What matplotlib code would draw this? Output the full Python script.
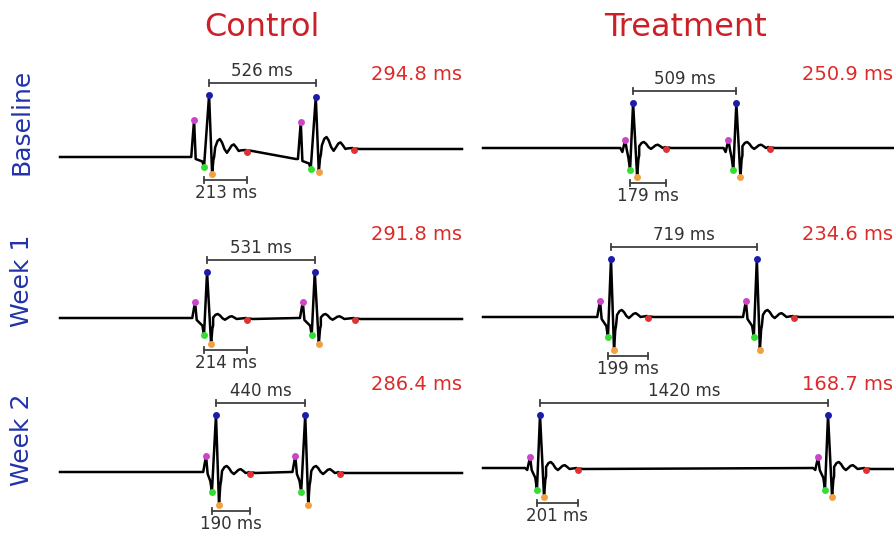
import numpy as np
import matplotlib.pyplot as plt

# panels: Control/Treatment x Baseline/Week 1/Week 2 (row-major)
groups = ['Control', 'Treatment']
weeks = ['Baseline', 'Week 1', 'Week 2']

rr_ms = [526, 509, 531, 719, 440, 1420]        # R-R interval
qt_ms = [213, 179, 214, 199, 190, 201]         # Q-T interval
qtc_ms = [294.8, 250.9, 291.8, 234.6, 286.4, 168.7]
first_r_ms = [735, 740, 725, 631, 769, 281]    # time of first R peak

# beat shape (ms relative to R, amplitude in px)
p_off = [-74, -39, -59, -54, -49, -49]
q_off = [-25, -15, -15, -15, -20, -15]
s_off = [15, 20, 20, 15, 15, 20]
p_amp = [37, 8, 16, 16, 16, 11]
q_amp = [-10, -22, -17, -20, -20, -22]
r_amp = [62, 45, 46, 58, 57, 53]
s_amp = [-23, -29, -25, -33, -32, -28]
t_amp = [12, 6, 5, 7, 7, 7]
p_dip = [0, -4, 0, 0, 0, -2]
# baseline level before / after each of the two beats
level_pre = [(0, -2), (0, 0), (0, 0), (0, 0), (0, 0), (0, 0)]
level_post = [(6, 8), (0, 0), (-1, -1), (0, 0), (-1, -1), (-1, -1)]

# post-S wave: time (ms after R) and fraction of t_amp
wave_t = [30, 42, 53, 64, 76, 88, 100, 111, 122, 134, 146, 156]
wave_f = [0.3, 0.85, 1.0, 0.7, 0.15, -0.15, 0.15, 0.45, 0.55, 0.3, 0.0, 0.05]

W, H = 895, 535
MS_PER_PX = 4.93
col_px = [(60, 462), (483, 895)]
row_px = [(50, 212), (212, 375), (375, 535)]
base_px = [157, 148, 318, 317, 472, 468]
value_y = [75, 235, 385]

C_P, C_Q, C_R, C_S, C_T = '#cc44cc', '#33dd33', '#1c1ca8', '#f2a040', '#dd3333'
GRAY = '#404040'

fig = plt.figure(figsize=(W / 100, H / 100), dpi=100)


def beat(i, tr, pre, post):
    tp, tq, ts = p_off[i], q_off[i], s_off[i]
    te = tq + qt_ms[i]
    t = [tp - 24, tp - 14, tp, tp + 8, tq - 8, tq, 0, ts, ts + 6, ts + 10]
    y = [pre, pre + p_dip[i], pre + p_amp[i], pre - 2, pre + q_amp[i] * 0.45,
         pre + q_amp[i], pre + r_amp[i], post + s_amp[i], post + s_amp[i] * 0.4,
         post + s_amp[i] * 0.25]
    for wt, wf in zip(wave_t, wave_f):
        if wt < te - 10:
            t.append(wt)
            y.append(post + wf * t_amp[i])
    t += [te - 6, te, te + 10, te + 25]
    y += [post + 1, post - 1, post + 0.5, post]
    marks = [(tr + tp, pre + p_amp[i], C_P), (tr + tq, pre + q_amp[i], C_Q),
             (tr + ts, post + s_amp[i], C_S), (tr, pre + r_amp[i], C_R),
             (tr + te, post - 1, C_T)]
    return [tr + v for v in t], y, marks


for i in range(6):
    r, c = divmod(i, 2)
    x0, x1 = col_px[c]
    y0, y1 = row_px[r]
    ax = fig.add_axes([x0 / W, 1 - y1 / H, (x1 - x0) / W, (y1 - y0) / H])
    xmax = (x1 - x0) * MS_PER_PX
    ax.set_xlim(0, xmax)
    ax.set_ylim(-(y1 - base_px[i]), base_px[i] - y0)
    ax.axis('off')

    r_times = [first_r_ms[i], first_r_ms[i] + rr_ms[i]]
    xs, ys, marks = [0], [level_pre[i][0]], []
    for k, tr in enumerate(r_times):
        bt, by, bm = beat(i, tr, level_pre[i][k], level_post[i][k])
        xs += bt
        ys += by
        marks += bm
    xs.append(xmax)
    ys.append(level_post[i][1])
    ax.plot(xs, ys, color='black', lw=1.8, solid_joinstyle='round', clip_on=False)
    for mx, my, mc in marks:
        ax.plot(mx, my, 'o', color=mc, ms=5, mec='none', clip_on=False)

    # R-R bar
    yb = level_pre[i][0] + r_amp[i] + 12
    ax.plot(r_times, [yb, yb], color=GRAY, lw=1.3, clip_on=False)
    for tr in r_times:
        ax.plot([tr, tr], [yb - 3, yb + 3], color=GRAY, lw=1.3, clip_on=False)
    ax.text(np.mean(r_times), yb + 3, f'{rr_ms[i]} ms', ha='center', va='bottom',
            fontsize=12, color='#333333')

    # Q-T bar
    tq = r_times[0] + q_off[i]
    te = tq + qt_ms[i]
    yq = level_post[i][0] + s_amp[i] - 6
    ax.plot([tq, te], [yq, yq], color=GRAY, lw=1.3, clip_on=False)
    for tx in (tq, te):
        ax.plot([tx, tx], [yq - 3, yq + 3], color=GRAY, lw=1.3, clip_on=False)
    ax.text((tq + te) / 2, yq - 4, f'{qt_ms[i]} ms', ha='center', va='top',
            fontsize=12, color='#333333')

    right_px = 462 if c == 0 else 893
    fig.text(right_px / W, 1 - value_y[r] / H, f'{qtc_ms[i]} ms', ha='right',
             va='center', fontsize=14, color='#dd2a2a')

for c, g in enumerate(groups):
    fig.text([262, 686][c] / W, 1 - 28 / H, g, ha='center', va='center',
             fontsize=23, color='#cc2027')

for r, w in enumerate(weeks):
    fig.text(22 / W, 1 - [122, 281, 440][r] / H, w, ha='center', va='center',
             rotation=90, fontsize=18, color='#2233aa')

fig.savefig('out.png', dpi=100)
